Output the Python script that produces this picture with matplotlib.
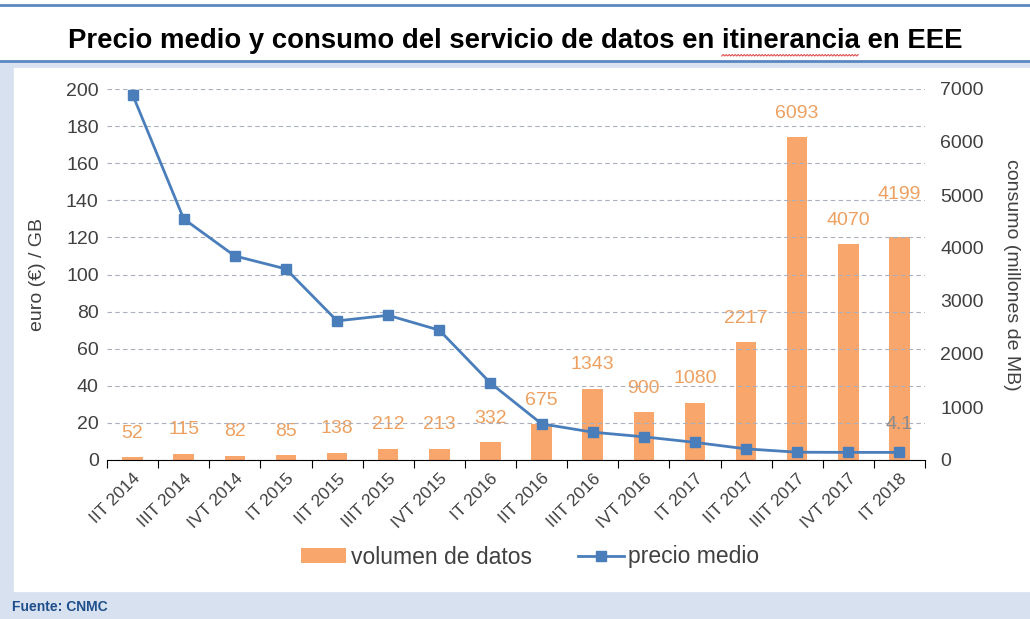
import numpy as np
import matplotlib.pyplot as plt
from matplotlib.patches import Rectangle
from matplotlib.lines import Line2D
from matplotlib.ticker import FixedLocator

plt.rcParams['font.family'] = ['Liberation Sans', 'DejaVu Sans']

# data
trimestres = ['IIT 2014', 'IIIT 2014', 'IVT 2014', 'IT 2015', 'IIT 2015', 'IIIT 2015',
              'IVT 2015', 'IT 2016', 'IIT 2016', 'IIIT 2016', 'IVT 2016', 'IT 2017',
              'IIT 2017', 'IIIT 2017', 'IVT 2017', 'IT 2018']
volumen = [52, 115, 82, 85, 138, 212, 213, 332, 675, 1343, 900, 1080, 2217, 6093, 4070, 4199]
precio = [197, 130, 110, 103, 75, 78, 70, 41.5, 19.5, 15, 12.5, 9.5, 6, 4.2, 4.1, 4.1]

titulo = 'Precio medio y consumo del servicio de datos en itinerancia en EEE'

bar_color = '#f9a66c'
lbl_color = '#eda060'
line_color = '#4a7ebb'
txt_color = '#404040'

W, H = 1030, 619
fig = plt.figure(figsize=(W / 100, H / 100), dpi=100)

# page decoration
fig.patches.append(Rectangle((0, 0), 1, 1 - 62/H, transform=fig.transFigure,
                             color='#d7e1ef', zorder=-10))
fig.patches.append(Rectangle((14/W, 28/H), 1, 1 - 68/H - 28/H,
                             transform=fig.transFigure, color='white', zorder=-9))
fig.add_artist(Line2D([0, 1], [1 - 5/H] * 2, transform=fig.transFigure,
                      color='#5b87c0', lw=2))
fig.add_artist(Line2D([0, 1], [1 - 61/H] * 2, transform=fig.transFigure,
                      color='#5b87c0', lw=2))

t = fig.text(0.5, 1 - 41/H, titulo, ha='center', va='center',
             fontsize=19.8, fontweight='bold', color='black')
fig.text(12/W, 1 - 607/H, 'Fuente: CNMC', ha='left', va='center',
         fontsize=10, fontweight='bold', color='#1f4e8c')

# red spell-check squiggle under "itinerancia"
renderer = fig.canvas.get_renderer()
bb = t.get_window_extent(renderer)
pre = fig.text(0, 0, titulo[:titulo.index('itinerancia')], fontsize=19.8,
               fontweight='bold')
w_pre = pre.get_window_extent(renderer).width
word = fig.text(0, 0, 'itinerancia', fontsize=19.8, fontweight='bold')
w_word = word.get_window_extent(renderer).width
pre.remove()
word.remove()
sx = np.arange(bb.x0 + w_pre, bb.x0 + w_pre + w_word, 1.5)
sy = (bb.y0 - 2) + np.where(np.arange(len(sx)) % 2 == 0, 0, 1.5)
fig.add_artist(Line2D(sx / W, sy / H, transform=fig.transFigure,
                      color='#e05050', lw=0.8))

ax = fig.add_axes([107/W, 1 - 460/H, 818/W, 371/H])
ax2 = ax.twinx()
ax.set_zorder(ax2.get_zorder() + 1)
ax.patch.set_visible(False)

x = np.arange(len(trimestres))
bars = ax2.bar(x, volumen, width=0.4, color=bar_color, label='volumen de datos')
for i, v in enumerate(volumen):
    off = 24 if i != len(volumen) - 1 else 43
    ax2.annotate(str(v), (x[i], v), xytext=(0, off), textcoords='offset pixels',
                 ha='center', va='center', fontsize=14, color=lbl_color)

ln, = ax.plot(x, precio, color=line_color, lw=2, marker='s', markersize=7,
              label='precio medio')
ax.annotate('4.1', (x[-1], precio[-1]), xytext=(0, 28), textcoords='offset pixels',
            ha='center', va='center', fontsize=14, color='#8c8c8c')

ax.set_ylim(0, 200)
ax.set_yticks(np.arange(0, 201, 20))
ax2.set_ylim(0, 7000)
ax2.set_yticks(np.arange(0, 7001, 1000))
ax.set_xlim(-0.5, len(trimestres) - 0.5)

ax.grid(axis='y', ls=(0, (4, 3)), color='#a8b0c0', lw=0.8)
ax.set_axisbelow(True)

ax.xaxis.set_major_locator(FixedLocator(np.arange(-0.5, len(trimestres), 1)))
ax.set_xticklabels([])
ax.xaxis.set_minor_locator(FixedLocator(x))
ax.set_xticklabels(trimestres, minor=True, rotation=45, ha='right',
                   rotation_mode='anchor', fontsize=12.5, color=txt_color)
ax.tick_params(axis='x', which='major', length=6, direction='out', color='black')
ax.tick_params(axis='x', which='minor', length=0, pad=8)
ax.tick_params(axis='y', length=0, labelsize=14, colors=txt_color, pad=6)
ax2.tick_params(axis='y', length=0, labelsize=14, colors=txt_color, pad=11)

for a in (ax, ax2):
    for s in ('left', 'right', 'top'):
        a.spines[s].set_visible(False)
ax.spines['bottom'].set_color('black')
ax2.spines['bottom'].set_visible(False)

ax.set_ylabel('euro (€) / GB', fontsize=14, color=txt_color, labelpad=14)
ax2.set_ylabel('consumo (millones de MB)', fontsize=14, color=txt_color,
               rotation=270, labelpad=26)

fig.legend([bars, ln], ['volumen de datos', 'precio medio'], loc='center',
           bbox_to_anchor=(530/W, 1 - 557/H), ncol=2, frameon=False,
           fontsize=16.5, handlelength=2.0, handleheight=0.6, columnspacing=2.0,
           handletextpad=0.2, labelcolor=txt_color)

fig.savefig('out.png', dpi=100)
